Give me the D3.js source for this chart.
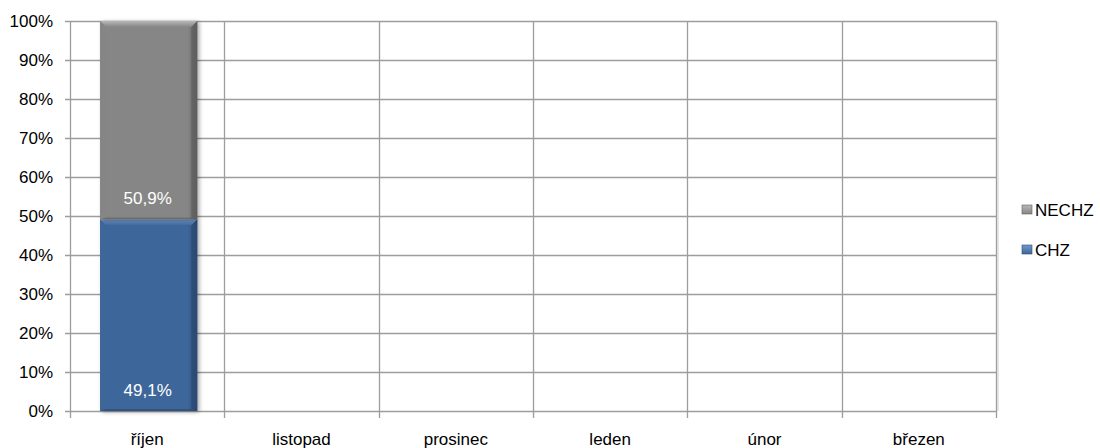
<!DOCTYPE html>
<html>
<head>
<meta charset="utf-8">
<script src="https://cdn.jsdelivr.net/npm/d3@7"></script>
<style>
  html, body { margin: 0; padding: 0; background: #fff; }
  svg { display: block; font-family: "Liberation Sans", Arial, sans-serif; }
</style>
</head>
<body>
<svg id="chart" width="1100" height="448"></svg>
<script>
// Months of the season
const categories = ["říjen", "listopad", "prosinec", "leden", "únor", "březen"];
// Shares per month (percent); only October has values
const chzValues   = [49.1, null, null, null, null, null];
const nechzValues = [50.9, null, null, null, null, null];
const seriesNames = ["CHZ", "NECHZ"];
const yTicks = [0, 10, 20, 30, 40, 50, 60, 70, 80, 90, 100];

const colors = {
  CHZ:   { base: "#3e669a", light: "#7199cf", dark: "#2a4a73" },
  NECHZ: { base: "#868686", light: "#b8b8b8", dark: "#5e5e5e" }
};

const svg = d3.select("#chart");
const margin = { left: 70, right: 104, top: 21, bottom: 37 };
const W = 1100, H = 448;
const x = d3.scaleBand().domain(categories).range([margin.left, W - margin.right]).paddingInner(0).paddingOuter(0);
const y = d3.scaleLinear().domain([0, 100]).range([H - margin.bottom, margin.top]);

const gridColor = "#9d9d9d";
const fontSize = 17;

// Gradients for the bevelled bars
const defs = svg.append("defs");
seriesNames.forEach(s => {
  const c = colors[s];
  const g = defs.append("linearGradient").attr("id", "lg-" + s).attr("x1", 0).attr("x2", 1).attr("y1", 0).attr("y2", 0);
  g.append("stop").attr("offset", "0%").attr("stop-color", c.base);
  g.append("stop").attr("offset", "90%").attr("stop-color", c.base);
  g.append("stop").attr("offset", "100%").attr("stop-color", c.dark);
  const t = defs.append("linearGradient").attr("id", "tg-" + s).attr("x1", 0).attr("x2", 0).attr("y1", 0).attr("y2", 1);
  t.append("stop").attr("offset", "0%").attr("stop-color", c.light);
  t.append("stop").attr("offset", "100%").attr("stop-color", c.base);
});
const shadow = defs.append("filter").attr("id", "shadow").attr("x", "-20%").attr("y", "-5%").attr("width", "140%").attr("height", "110%");
shadow.append("feGaussianBlur").attr("in", "SourceAlpha").attr("stdDeviation", 2);
shadow.append("feOffset").attr("dx", 2).attr("dy", 1).attr("result", "ob");
shadow.append("feComponentTransfer").append("feFuncA").attr("type", "linear").attr("slope", 0.35);
const fm = shadow.append("feMerge");
fm.append("feMergeNode");
fm.append("feMergeNode").attr("in", "SourceGraphic");

// Horizontal gridlines
svg.append("g").selectAll("line").data(yTicks).join("line")
  .attr("x1", margin.left - 5).attr("x2", W - margin.right)
  .attr("y1", d => Math.round(y(d)) + 0.5).attr("y2", d => Math.round(y(d)) + 0.5)
  .attr("stroke", gridColor).attr("stroke-width", 1.3);

// Vertical gridlines at category boundaries
const bounds = categories.map(c => x(c)).concat([W - margin.right]);
svg.append("g").selectAll("line").data(bounds).join("line")
  .attr("x1", d => Math.round(d) + 0.5).attr("x2", d => Math.round(d) + 0.5)
  .attr("y1", margin.top).attr("y2", H - margin.bottom + 7)
  .attr("stroke", gridColor).attr("stroke-width", 1.3);
// right frame edge shadow
svg.append("line")
  .attr("x1", W - margin.right + 2).attr("x2", W - margin.right + 2)
  .attr("y1", margin.top + 1).attr("y2", H - margin.bottom)
  .attr("stroke", "#cfcfcf").attr("stroke-width", 1);

// Y axis labels
svg.append("g").selectAll("text").data(yTicks).join("text")
  .attr("x", 53).attr("y", d => y(d) + 6)
  .attr("text-anchor", "end").attr("font-size", fontSize).attr("fill", "#000")
  .text(d => d + "%");

// X axis labels
svg.append("g").selectAll("text").data(categories).join("text")
  .attr("x", d => x(d) + x.bandwidth() / 2).attr("y", 445)
  .attr("text-anchor", "middle").attr("font-size", fontSize).attr("fill", "#000")
  .text(d => d);

// Stacked bars
const rows = categories.map((c, i) => ({ cat: c, CHZ: chzValues[i], NECHZ: nechzValues[i] }))
  .filter(r => r.CHZ != null);
const stack = d3.stack().keys(seriesNames)(rows);
const barW = x.bandwidth() * 0.63;
const bev = 6;
const fmt = v => d3.format(".1f")(v).replace(".", ",") + "%";

stack.forEach(layer => {
  const s = layer.key;
  const g = svg.append("g");
  layer.forEach(d => {
    const cx = x(d.data.cat) + x.bandwidth() / 2 + 1.5;
    const x0 = cx - barW / 2, x1 = cx + barW / 2;
    const yt = y(d[1]), yb = y(d[0]);
    g.append("rect").attr("x", x0).attr("y", yt).attr("width", barW).attr("height", yb - yt)
      .attr("fill", "url(#lg-" + s + ")").attr("filter", "url(#shadow)");
    // top bevel
    g.append("path")
      .attr("d", `M${x0},${yt}L${x1},${yt}L${x1 - bev},${yt + bev}L${x0 + bev},${yt + bev}Z`)
      .attr("fill", "url(#tg-" + s + ")");
    // left bevel
    g.append("path")
      .attr("d", `M${x0},${yt}L${x0 + bev},${yt + bev}L${x0 + bev},${yb - 2}L${x0},${yb}Z`)
      .attr("fill", colors[s].base).attr("opacity", 0.6);
    // right bevel
    g.append("path")
      .attr("d", `M${x1},${yt}L${x1 - bev},${yt + bev}L${x1 - bev},${yb - 2}L${x1},${yb}Z`)
      .attr("fill", colors[s].dark).attr("opacity", 0.7);
    // bottom edge
    g.append("path")
      .attr("d", `M${x0},${yb}L${x0 + bev},${yb - 2}L${x1 - bev},${yb - 2}L${x1},${yb}Z`)
      .attr("fill", colors[s].dark).attr("opacity", 0.6);
    // value label near the segment base
    g.append("text").attr("x", cx - 1).attr("y", yb - 15.5)
      .attr("text-anchor", "middle").attr("font-size", fontSize).attr("fill", "#ffffff")
      .text(fmt(d.data[s]));
  });
});

// Legend
const legend = [
  { name: "NECHZ", y: 210 },
  { name: "CHZ", y: 250 }
];
const lg = svg.append("g");
legend.forEach(l => {
  const c = colors[l.name];
  lg.append("rect").attr("x", 1022).attr("y", l.y - 5).attr("width", 10).attr("height", 9)
    .attr("fill", "url(#tg-" + l.name + ")").attr("stroke", c.dark).attr("stroke-width", 0.6);
  lg.append("text").attr("x", 1035).attr("y", l.y + 6).attr("font-size", fontSize).attr("fill", "#000")
    .text(l.name);
});
</script>
</body>
</html>
